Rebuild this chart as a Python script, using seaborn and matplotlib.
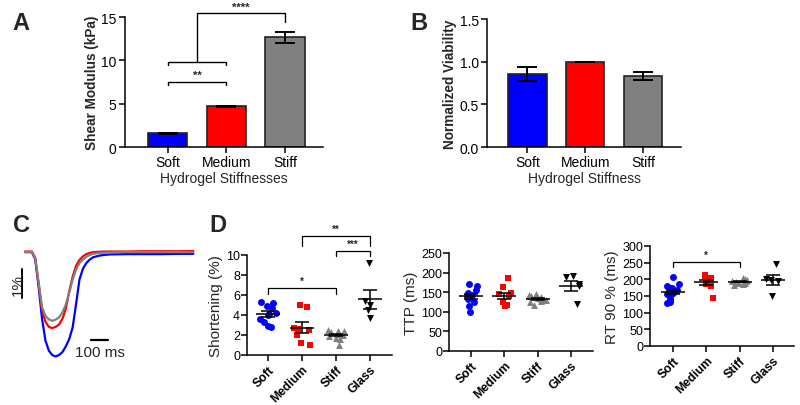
import numpy as np
import pandas as pd
import matplotlib
matplotlib.use("Agg")
import matplotlib.pyplot as plt
import seaborn as sns

# ---------------- data ----------------
cats3 = ["Soft", "Medium", "Stiff"]
cats4 = ["Soft", "Medium", "Stiff", "Glass"]
colors4 = ["#0000ff", "#ff0000", "#808080", "#000000"]
markers4 = ["o", "s", "^", "v"]

shear_mean = [1.6, 4.7, 12.65]
shear_sem = [0.06, 0.08, 0.67]

viab_mean = [0.857, 1.0, 0.83]
viab_sem = [0.078, 0.0, 0.05]

# panel C traces (time in ms, shortening in %)
trace_t = [0, 40, 60, 80, 100, 120, 140, 160, 180, 200, 220, 240, 260, 280, 300,
           320, 340, 360, 380, 400, 430, 460, 500, 600, 700, 800, 900, 990]
trace_soft = [0.0, 0.0, -0.25, -1.2, -2.3, -3.05, -3.4, -3.55, -3.6, -3.55, -3.45,
              -3.25, -3.0, -2.6, -1.8, -0.95, -0.58, -0.38, -0.26, -0.18, -0.13,
              -0.1, -0.08, -0.07, -0.07, -0.07, -0.06, -0.06]
trace_medium = [0.02, 0.02, -0.2, -1.1, -2.0, -2.4, -2.58, -2.62, -2.58, -2.5, -2.3,
                -1.95, -1.35, -0.85, -0.47, -0.27, -0.15, -0.07, -0.03, 0.0, 0.01,
                0.02, 0.02, 0.02, 0.03, 0.03, 0.03, 0.04]
trace_stiff = [0.0, 0.0, -0.2, -1.05, -1.9, -2.2, -2.32, -2.37, -2.33, -2.25, -2.08,
               -1.8, -1.4, -0.95, -0.6, -0.38, -0.26, -0.16, -0.1, -0.06, -0.03,
               -0.02, -0.01, 0.0, 0.0, 0.0, 0.0, 0.0]

short_soft = [5.3, 5.25, 4.9, 4.75, 4.25, 4.15, 4.0, 3.6, 3.3, 2.9, 2.85]
short_medium = [4.8, 5.0, 2.7, 2.6, 2.55, 2.0, 1.2, 1.0]
short_stiff = [2.5, 2.45, 2.4, 2.3, 2.1, 2.0, 1.9, 1.75, 1.6, 1.0]
short_glass = [9.17, 5.37, 5.03, 4.5, 3.7]

ttp_soft = [170, 167, 155, 148, 142, 140, 138, 132, 125, 115, 100]
ttp_medium = [187, 162, 148, 146, 140, 126, 125, 117, 114]
ttp_stiff = [145, 143, 140, 138, 135, 132, 130, 128, 125, 118]
ttp_glass = [191, 188, 170, 165, 120]

rt_soft = [207, 187, 180, 175, 173, 168, 160, 157, 143, 138, 133, 128]
rt_medium = [214, 210, 203, 200, 188, 185, 180, 145]
rt_stiff = [205, 200, 198, 196, 194, 192, 190, 188, 185, 183]
rt_glass = [245, 200, 198, 195, 150]

# ---------------- style ----------------
sns.set_style("ticks")
plt.rcParams["font.family"] = ["Liberation Sans", "DejaVu Sans"]
plt.rcParams["axes.linewidth"] = 1.1
plt.rcParams["xtick.major.width"] = 1.1
plt.rcParams["ytick.major.width"] = 1.1
plt.rcParams["xtick.color"] = "black"
plt.rcParams["ytick.color"] = "black"
plt.rcParams["axes.edgecolor"] = "black"
np.random.seed(7)

fig = plt.figure(figsize=(8, 4.06), dpi=100)
W, H = 800.0, 406.0


def px_axes(x0, y_top, x1, y_bot):
    return fig.add_axes([x0 / W, 1 - y_bot / H, (x1 - x0) / W, (y_bot - y_top) / H])


axA = px_axes(125, 18, 323, 148)
axB = px_axes(487, 20, 681, 148)
axC = px_axes(15, 245, 200, 365)
axD1 = px_axes(247, 256, 392, 356)
axD2 = px_axes(449, 254, 593, 352)
axD3 = px_axes(650, 247, 794, 347)


def bar_panel(ax, vals, sems, ylim, yticks, ylabel, xlabel, xlim):
    df = pd.DataFrame({"cat": cats3, "val": vals})
    sns.barplot(data=df, x="cat", y="val", hue="cat", palette=colors4[:3],
                legend=False, edgecolor="#222222", linewidth=1.2, width=0.67,
                saturation=1, ax=ax)
    ax.errorbar(range(3), vals, yerr=sems, fmt="none", ecolor="black",
                elinewidth=1.4, capsize=7, capthick=1.4, zorder=5)
    ax.set_ylim(*ylim)
    ax.set_xlim(*xlim)
    ax.set_yticks(yticks)
    ax.set_ylabel(ylabel, fontsize=9.8, fontweight="bold", labelpad=2)
    ax.set_xlabel(xlabel, fontsize=10, labelpad=1)
    ax.tick_params(axis="both", labelsize=10, length=4, pad=2)
    sns.despine(ax=ax)


bar_panel(axA, shear_mean, shear_sem, (0, 15), [0, 5, 10, 15],
          "Shear Modulus (kPa)", "Hydrogel Stiffnesses", (-0.73, 2.65))
bar_panel(axB, viab_mean, viab_sem, (0, 1.5), [0.0, 0.5, 1.0, 1.5],
          "Normalized Viability", "Hydrogel Stiffness", (-0.70, 2.66))
axB.set_yticklabels(["0.0", "0.5", "1.0", "1.5"])


def bracket(ax, x0, x1, y, drop, text, fs, tdy, lw=1.0):
    ax.plot([x0, x0, x1, x1], [y - drop, y, y, y - drop], color="black",
            lw=lw, clip_on=False, solid_joinstyle="miter")
    ax.text((x0 + x1) / 2, y + tdy, text, ha="center", va="bottom",
            fontsize=fs, fontweight="bold", clip_on=False)


# Panel A brackets
bracket(axA, 0, 1, 7.54, 0.4, "**", 8, 0.25)
bracket(axA, 0, 1, 9.86, 0.4, "", 8, 0.0)
axA.plot([0.5, 0.5, 2, 2], [9.86, 15.5, 15.5, 14.4], color="black", lw=1.0,
         clip_on=False)
axA.text(1.25, 15.65, "****", ha="center", va="bottom", fontsize=8,
         fontweight="bold")

# Panel C traces
for tr, c in [(trace_soft, colors4[0]), (trace_medium, colors4[1]),
              (trace_stiff, colors4[2])]:
    sns.lineplot(x=trace_t, y=tr, color=c, lw=1.6, ax=axC)
axC.set_xlim(-59, 1029)
axC.set_ylim(-3.86, 0.28)
axC.axis("off")
# scale bars
axC.plot([-18, -18], [-0.59, -1.59], color="black", lw=1.4)
axC.text(-42, -1.09, "1%", rotation=90, ha="center", va="center", fontsize=11)
axC.plot([388, 488], [-3.03, -3.03], color="black", lw=1.6)
axC.text(441, -3.22, "100 ms", ha="center", va="top", fontsize=11)


def scatter_panel(ax, groups, ylim, yticks, ylabel, xlim):
    for i, (vals, c, m) in enumerate(zip(groups, colors4, markers4)):
        df = pd.DataFrame({"cat": [cats4[i]] * len(vals), "val": vals})
        sns.stripplot(data=df, x="cat", y="val", order=cats4, color=c, marker=m,
                      size=5, jitter=0.26, linewidth=0, ax=ax, zorder=3)
        mean = np.mean(vals)
        sem = np.std(vals, ddof=1) / np.sqrt(len(vals))
        ax.hlines(mean, i - 0.36, i + 0.36, color="black", lw=1.1, zorder=4)
        ax.errorbar([i], [mean], yerr=[sem], fmt="none", ecolor="black",
                    elinewidth=1.1, capsize=5, capthick=1.1, zorder=4)
    ax.set_xlim(*xlim)
    ax.set_ylim(*ylim)
    ax.set_yticks(yticks)
    ax.set_ylabel(ylabel, fontsize=11, labelpad=2)
    ax.set_xlabel("")
    ax.tick_params(axis="y", labelsize=9, length=4, pad=1)
    ax.tick_params(axis="x", labelsize=8.8, length=4, pad=2)
    for lab in ax.get_xticklabels():
        lab.set_rotation(45)
        lab.set_ha("right")
        lab.set_rotation_mode("anchor")
        lab.set_fontweight("bold")
    sns.despine(ax=ax)


scatter_panel(axD1, [short_soft, short_medium, short_stiff, short_glass],
              (0, 10), [0, 2, 4, 6, 8, 10], "Shortening (%)", (-0.62, 3.65))
scatter_panel(axD2, [ttp_soft, ttp_medium, ttp_stiff, ttp_glass],
              (0, 250), [0, 50, 100, 150, 200, 250], "TTP (ms)", (-0.66, 3.66))
scatter_panel(axD3, [rt_soft, rt_medium, rt_stiff, rt_glass],
              (0, 300), [0, 50, 100, 150, 200, 250, 300], "RT 90 % (ms)",
              (-0.69, 3.63))

bracket(axD1, 0, 2, 6.67, 0.6, "*", 7, 0.2, lw=0.9)
bracket(axD1, 2, 3, 10.43, 0.5, "***", 7, 0.15, lw=0.9)
bracket(axD1, 1, 3, 11.93, 1.0, "**", 7, 0.15, lw=0.9)
bracket(axD3, 0, 2, 253, 16, "*", 7, 5, lw=0.9)

# panel letters
for x, y, s in [(21, 24, "A"), (419, 24, "B"), (22, 225, "C"), (218, 225, "D")]:
    fig.text(x / W, 1 - y / H, s, ha="center", va="center", fontsize=17,
             fontweight="bold")

fig.savefig("out.png", dpi=100)
